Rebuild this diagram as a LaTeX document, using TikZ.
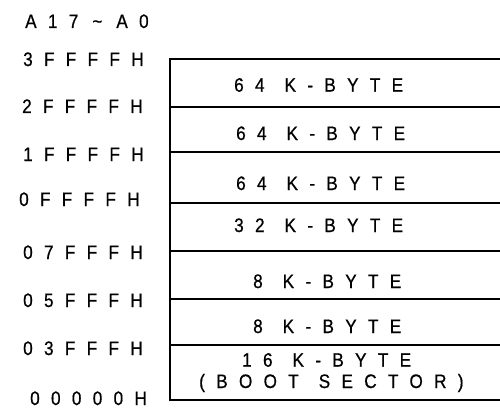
\documentclass[tikz,border=0pt]{standalone}
\usepackage{fontspec}
\setmainfont{Liberation Sans}[LetterSpace=58,FakeStretch=0.88,FakeBold=0.6]
\newcommand\mylblfont{\fontsize{19.5}{21}\selectfont\spaceskip=20pt plus 0pt minus 0pt\relax}
\begin{document}
\begin{tikzpicture}[x=1pt,y=-1pt,
  lbl/.style={inner sep=0pt, anchor=base west, font=\mylblfont},
  rule/.style={line width=2.2pt}]
\useasboundingbox (0,0) rectangle (500,409);
% frame
\coordinate (c0) at (170,59);   \coordinate (e0) at (500,59);
\coordinate (c1) at (170,106.7);\coordinate (e1) at (500,106.7);
\coordinate (c2) at (170,152);  \coordinate (e2) at (500,152);
\coordinate (c3) at (170,203);  \coordinate (e3) at (500,203);
\coordinate (c4) at (170,250.7);\coordinate (e4) at (500,250.7);
\coordinate (c5) at (170,299);  \coordinate (e5) at (500,299);
\coordinate (c6) at (170,345);  \coordinate (e6) at (500,345);
\coordinate (c7) at (170,400);  \coordinate (e7) at (500,400);
\draw[rule] (e0) -- (c0) -- (c7) -- (e7);
\foreach \i in {1,...,6} \draw[rule] (c\i) -- (e\i);
% address labels
\node[lbl] (ahead) at (25,28) {A17\hspace{14pt}\char`\~\hspace{14pt}A0};
\node[lbl] (a0) at (23,66) {3FFFFH};
\node[lbl] (a1) at (22,113) {2FFFFH};
\node[lbl] (a2) at (23,161) {1FFFFH};
\node[lbl] (a3) at (19,206) {0FFFFH};
\node[lbl] (a4) at (23,259) {07FFFH};
\node[lbl] (a5) at (23,307) {05FFFH};
\node[lbl] (a6) at (23,355) {03FFFH};
\node[lbl] (a7) at (30,405) {00000H};
% sector labels
\node[lbl] (s1) at (234,91.7) {64 K-BYTE};
\node[lbl] (s2) at (236,140) {64 K-BYTE};
\node[lbl] (s3) at (236,190) {64 K-BYTE};
\node[lbl] (s4) at (234,232) {32 K-BYTE};
\node[lbl] (s5) at (253,288) {8 K-BYTE};
\node[lbl] (s6) at (253,333) {8 K-BYTE};
\node[lbl] (s7) at (242,366.7) {16 K-BYTE};
\node[lbl] (s7b) at (199,388) {(BOOT SECTOR)};
\end{tikzpicture}
\end{document}
